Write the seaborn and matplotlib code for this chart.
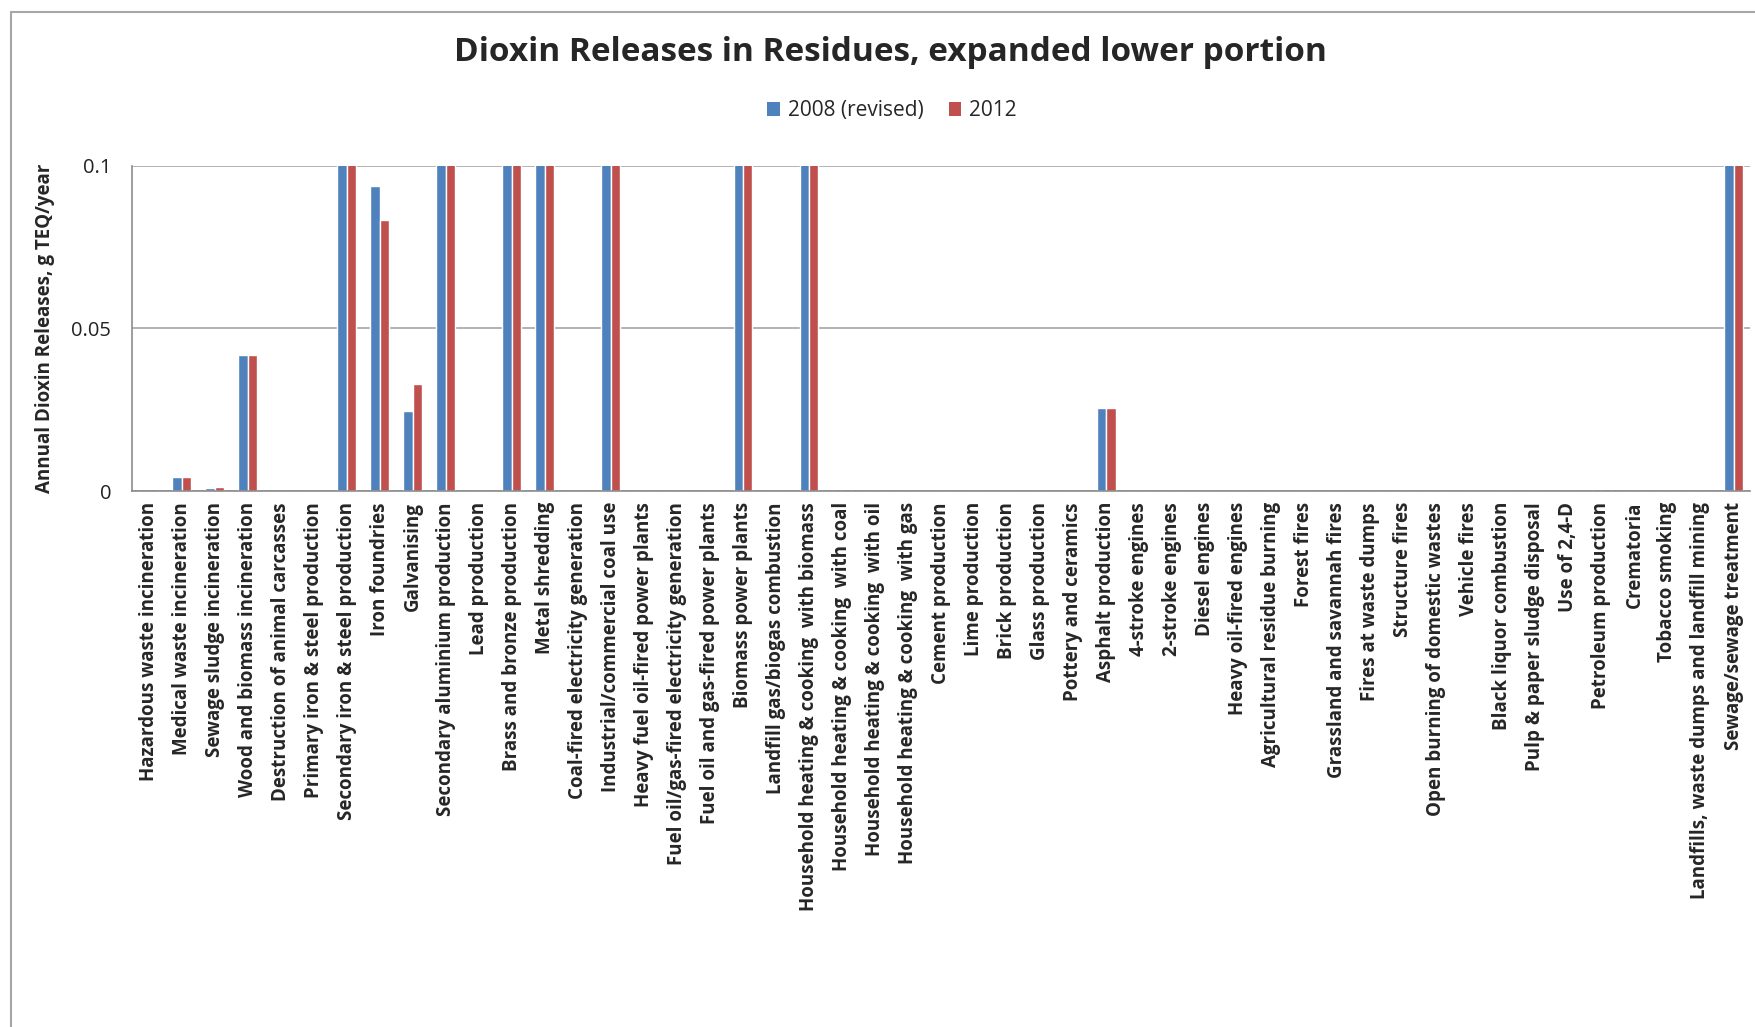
import numpy as np
import pandas as pd
import seaborn as sns
import matplotlib
matplotlib.use('Agg')
import matplotlib.pyplot as plt
from matplotlib.lines import Line2D
from matplotlib.patches import Patch

# categories (sources) as they appear on the x axis
sources = [
    'Hazardous waste incineration', 'Medical waste incineration', 'Sewage sludge incineration',
    'Wood and biomass incineration', 'Destruction of animal carcasses', 'Primary iron & steel production',
    'Secondary iron & steel production', 'Iron foundries', 'Galvanising', 'Secondary aluminium production',
    'Lead production', 'Brass and bronze production', 'Metal shredding', 'Coal-fired electricity generation',
    'Industrial/commercial coal use', 'Heavy fuel oil-fired power plants', 'Fuel oil/gas-fired electricity generation',
    'Fuel oil and gas-fired power plants', 'Biomass power plants', 'Landfill gas/biogas combustion',
    'Household heating & cooking  with biomass', 'Household heating & cooking  with coal',
    'Household heating & cooking  with oil', 'Household heating & cooking  with gas', 'Cement production',
    'Lime production', 'Brick production', 'Glass production', 'Pottery and ceramics', 'Asphalt production',
    '4-stroke engines', '2-stroke engines', 'Diesel engines', 'Heavy oil-fired engines',
    'Agricultural residue burning', 'Forest fires', 'Grassland and savannah fires', 'Fires at waste dumps',
    'Structure fires', 'Open burning of domestic wastes', 'Vehicle fires', 'Black liquor combustion',
    'Pulp & paper sludge disposal', 'Use of 2,4-D', 'Petroleum production', 'Crematoria', 'Tobacco smoking',
    'Landfills, waste dumps and landfill mining', 'Sewage/sewage treatment',
]

# g TEQ/year; bars above 0.1 are cut by the axis ("expanded lower portion")
rel_2008 = [0.0006, 0.0043, 0.0008, 0.0417, 0, 0, 0.5, 0.0938, 0.0246, 0.5,
            0, 0.5, 0.5, 0, 0.5, 0, 0, 0, 0.5, 0,
            0.5, 0.0005, 0, 0, 0, 0, 0, 0, 0, 0.0255,
            0, 0, 0, 0, 0, 0, 0, 0, 0, 0,
            0, 0, 0, 0, 0.0006, 0, 0, 0, 0.5]
rel_2012 = [0.0006, 0.0043, 0.0012, 0.0417, 0, 0, 0.5, 0.0834, 0.0328, 0.5,
            0, 0.5, 0.5, 0, 0.5, 0, 0, 0, 0.5, 0,
            0.5, 0.0005, 0, 0, 0, 0, 0, 0, 0, 0.0255,
            0, 0, 0, 0, 0, 0, 0, 0, 0, 0,
            0, 0, 0, 0, 0.0006, 0, 0, 0, 0.5]
series = ['2008 (revised)', '2012']
colors = ['#4F81BD', '#C0504D']
yticks = [0, 0.05, 0.1]
ytick_labels = ['0', '0.05', '0.1']

df = pd.DataFrame({
    'source': sources * 2,
    'release': rel_2008 + rel_2012,
    'year': [series[0]] * len(sources) + [series[1]] * len(sources),
})

sns.set_style('white')
plt.rcParams['font.family'] = ['Open Sans', 'DejaVu Sans']

fig = plt.figure(figsize=(17.56, 10.27), dpi=100)
ax = fig.add_axes([0.0752, 0.5219, 0.9214, 0.3165])

sns.barplot(data=df, x='source', y='release', hue='year', order=sources, hue_order=series,
            palette=colors, saturation=1, width=0.57, errorbar=None, legend=False, ax=ax)

ax.set_xlim(-0.5, len(sources) - 0.5)
ax.set_ylim(0, 0.1)
ax.set_yticks(yticks)
ax.set_yticklabels(ytick_labels, fontsize=14.5, color='#222222')
ax.yaxis.grid(True, color='#A6A6A6', lw=1.2)
ax.set_axisbelow(True)
for s in ['top', 'right']:
    ax.spines[s].set_visible(False)
for s in ['left', 'bottom']:
    ax.spines[s].set_color('#8C8C8C')
    ax.spines[s].set_linewidth(1.2)
ax.tick_params(axis='y', length=5, color='#8C8C8C', pad=10)

ax.set_xticks(range(len(sources)))
ax.set_xticklabels(sources, rotation=90, fontsize=13.5, fontweight='bold')
ax.set_xticks(np.arange(-0.5, len(sources)), minor=True)
ax.tick_params(axis='x', which='major', length=0, pad=8)
ax.tick_params(axis='x', which='minor', length=5, color='#8C8C8C')
ax.set_xlabel('')
ax.set_ylabel('Annual Dioxin Releases, g TEQ/year', fontsize=13.5, fontweight='bold', labelpad=12)

fig.suptitle('Dioxin Releases in Residues, expanded lower portion', x=0.507, y=0.965,
             fontsize=24, fontweight='bold')
handles = [Patch(facecolor=c, edgecolor='none') for c in colors]
fig.legend(handles, series, loc='center', bbox_to_anchor=(0.508, 0.892), ncol=2, frameon=False,
           fontsize=15, handlelength=0.6, handleheight=0.6, handletextpad=0.4, columnspacing=1.2)

# chart frame (cut at right and bottom, as in the reference)
fig.add_artist(Line2D([11 / 1756, 11 / 1756], [0, 1 - 12 / 1027], color='#A6A6A6', lw=1.5))
fig.add_artist(Line2D([11 / 1756, 1], [1 - 12 / 1027, 1 - 12 / 1027], color='#A6A6A6', lw=1.5))

fig.savefig('out.png', dpi=100)
